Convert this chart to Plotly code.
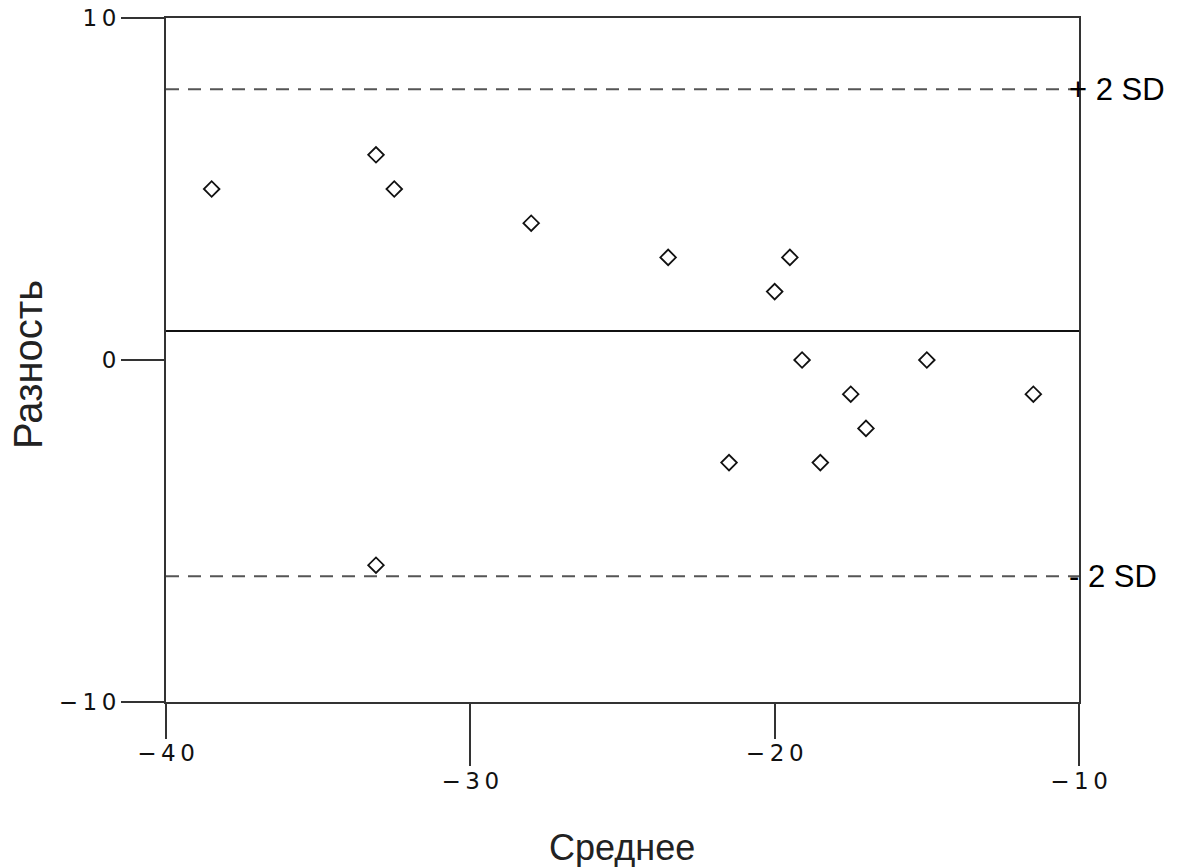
import plotly.graph_objects as go

# Data
mean_vals = [-38.5, -33.1, -32.5, -28.0, -23.5, -19.5, -20.0, -19.1, -15.0,
             -17.5, -11.5, -17.0, -21.5, -18.5, -33.1]
diff_vals = [5, 6, 5, 4, 3, 3, 2, 0, 0, -1, -1, -2, -3, -3, -6]
mean_diff = 0.85
upper_sd = 7.92
lower_sd = -6.32
x_range = [-40, -10]
y_range = [-10, 10]
x_ticks_short = [-40, -20]
x_ticks_long = [-30, -10]
y_ticks = [-10, 0, 10]


def spaced(v):
    s = str(v).replace("-", "\u2212")
    return "\u2009".join(s)


AX = "#333333"
TICKFONT = dict(family="DejaVu Sans", size=23, color="#111111")

fig = go.Figure()

# mean line and +-2SD lines drawn as traces
fig.add_trace(go.Scatter(x=x_range, y=[mean_diff, mean_diff], mode="lines",
                         line=dict(color="#111111", width=2), xaxis="x2",
                         hoverinfo="skip", showlegend=False))
fig.add_trace(go.Scatter(x=x_range, y=[upper_sd, upper_sd], mode="lines",
                         line=dict(color="#555555", width=2, dash="13px,9px"),
                         hoverinfo="skip", showlegend=False))
fig.add_trace(go.Scatter(x=x_range, y=[lower_sd, lower_sd], mode="lines",
                         line=dict(color="#555555", width=2, dash="13px,9px"),
                         hoverinfo="skip", showlegend=False))
fig.add_trace(go.Scatter(x=mean_vals, y=diff_vals, mode="markers",
                         marker=dict(symbol="diamond-open", size=12,
                                     color="#111111", line=dict(width=1.8)),
                         showlegend=False))

fig.update_layout(
    template="none",
    width=1182, height=867,
    margin=dict(l=166, r=103, t=18, b=165, autoexpand=False),
    plot_bgcolor="white", paper_bgcolor="white",
    font=dict(family="Liberation Sans, Arial", color="#111111"),
    xaxis=dict(range=x_range, tickvals=x_ticks_short,
               ticktext=[spaced(v) for v in x_ticks_short],
               ticks="outside", ticklen=35, tickwidth=2, tickcolor=AX,
               showline=True, linewidth=2, linecolor=AX, mirror=True,
               showgrid=False, zeroline=False, tickfont=TICKFONT,
               ticklabelstandoff=-6, automargin=False),
    xaxis2=dict(range=x_range, overlaying="x", side="bottom", anchor="y",
                tickvals=x_ticks_long,
                ticktext=[spaced(v) for v in x_ticks_long],
                ticks="outside", ticklen=63, tickwidth=2, tickcolor=AX,
                showline=False, showgrid=False, zeroline=False,
                tickfont=TICKFONT, ticklabelstandoff=-5, automargin=False),
    yaxis=dict(range=y_range, tickvals=y_ticks,
               ticktext=[spaced(v) for v in y_ticks],
               ticks="outside", ticklen=43, tickwidth=2, tickcolor=AX,
               showline=True, linewidth=2, linecolor=AX, mirror=True,
               showgrid=False, zeroline=False, tickfont=TICKFONT,
               ticklabelstandoff=0, automargin=False),
    annotations=[
        dict(text="Разность", textangle=-90, xref="paper", yref="paper",
             x=(28 - 166) / 913, y=(702 - 365) / 684, xanchor="center",
             yanchor="middle", showarrow=False,
             font=dict(size=40, color="#222222")),
        dict(text="Среднее", xref="paper", yref="paper",
             x=(622 - 166) / 913, y=(702 - 847) / 684, xanchor="center",
             yanchor="middle", showarrow=False,
             font=dict(size=36, color="#222222")),
        dict(text="+ 2 SD", xref="paper", yref="y", x=1, y=upper_sd,
             xanchor="left", xshift=-12, yshift=0, showarrow=False,
             font=dict(size=31, color="black")),
        dict(text="- 2 SD", xref="paper", yref="y", x=1, y=lower_sd,
             xanchor="left", xshift=-12, yshift=0, showarrow=False,
             font=dict(size=31, color="black")),
    ],
)

fig.write_html("out.html")
